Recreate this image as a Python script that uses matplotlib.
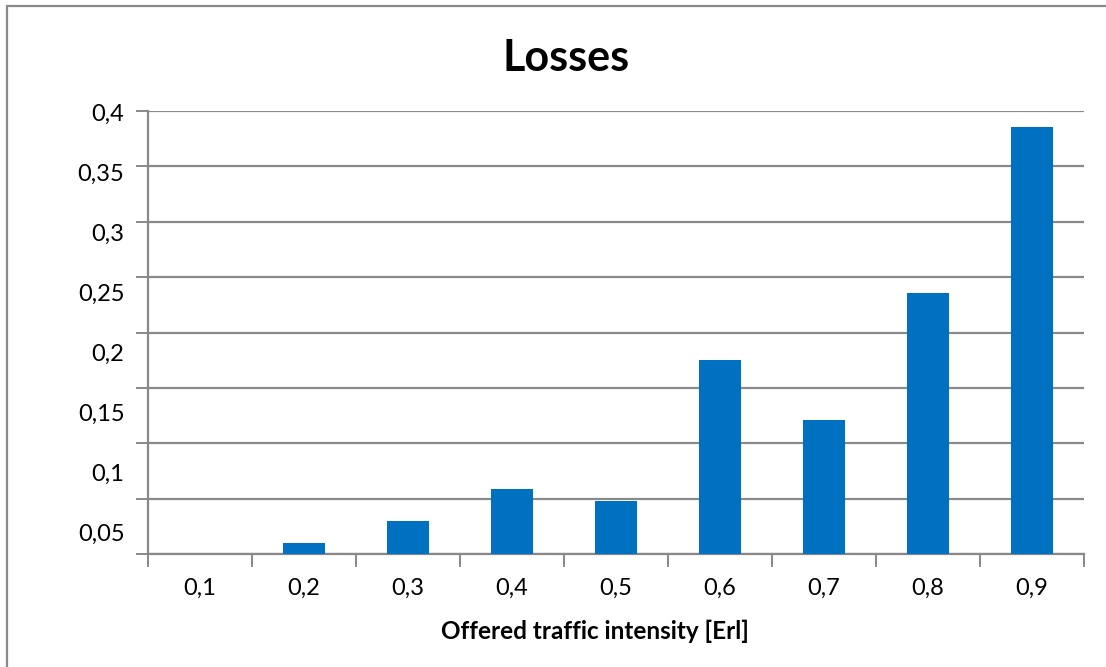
import matplotlib
matplotlib.use("Agg")
import matplotlib.pyplot as plt
import numpy as np
from matplotlib.patches import Rectangle

# Data
categories = ["0,1", "0,2", "0,3", "0,4", "0,5", "0,6", "0,7", "0,8", "0,9"]
losses = [0.0, 0.0099, 0.0298, 0.0587, 0.0479, 0.175, 0.121, 0.2357, 0.3856]
y_tick_values = [0.05, 0.1, 0.15, 0.2, 0.25, 0.3, 0.35, 0.4]
y_tick_labels = ["0,05", "0,1", "0,15", "0,2", "0,25", "0,3", "0,35", "0,4"]

title = "Losses"
x_label = "Offered traffic intensity [Erl]"

BAR_COLOR = "#0070C0"
GRID_COLOR = "#898989"
FONT = ["Lato", "DejaVu Sans"]

W, H = 1106, 667
fig = plt.figure(figsize=(W / 100, H / 100), dpi=100)
fig.patch.set_facecolor("white")

# Outer chart frame
fig.add_artist(Rectangle((6.5 / W, -0.05), 1.2, 1 - 5.5 / H + 0.05,
                         transform=fig.transFigure, fill=False,
                         edgecolor=GRID_COLOR, linewidth=1.6))

left, right = 148 / W, 1084 / W
bottom, top = (H - 554) / H, (H - 111) / H
ax = fig.add_axes([left, bottom, right - left, top - bottom])

x = np.arange(len(categories))
ax.bar(x, losses, width=0.4, color=BAR_COLOR, zorder=3)

ax.set_xlim(-0.5, len(categories) - 0.5)
ax.set_ylim(0, 0.4)

# Horizontal gridlines at every 0.05
ax.set_yticks(np.arange(0, 0.4001, 0.05))
ax.yaxis.set_tick_params(labelleft=False, length=9, width=1.4,
                         color=GRID_COLOR, direction="out")
ax.grid(axis="y", color=GRID_COLOR, linewidth=1.6, zorder=1)

# Category ticks sit between the bars
ax.set_xticks(np.arange(-0.5, len(categories), 1.0))
ax.set_xticklabels([])
ax.xaxis.set_tick_params(length=9, width=1.4, color=GRID_COLOR,
                         direction="out")
ax.set_xticks(x, minor=True)
ax.set_xticklabels(categories, minor=True, fontsize=17, family=FONT)
ax.xaxis.set_tick_params(which="minor", length=0, pad=17)

for side in ("top", "right"):
    ax.spines[side].set_visible(False)
for side in ("left", "bottom"):
    ax.spines[side].set_color(GRID_COLOR)
    ax.spines[side].set_linewidth(1.6)

# Value labels on the left axis
ax2 = ax.twinx()
ax2.set_ylim(0.03208, 0.40125)
ax2.yaxis.set_ticks_position("left")
ax2.set_yticks(y_tick_values)
ax2.set_yticklabels(y_tick_labels, fontsize=17, family=FONT)
ax2.yaxis.set_tick_params(length=0, pad=17)
for s in ax2.spines.values():
    s.set_visible(False)

ax.set_xlabel(x_label, fontsize=17.5, fontweight="bold", family=FONT)
ax.xaxis.set_label_coords((595 - 148) / (1084 - 148), -(631 - 554) / (554 - 111))
ax.xaxis.label.set_va("center")

fig.text(566 / W, 1 - 58 / H, title, fontsize=31, fontweight="bold",
         family=FONT, ha="center", va="center")

fig.savefig("out.png", dpi=100, facecolor="white")
